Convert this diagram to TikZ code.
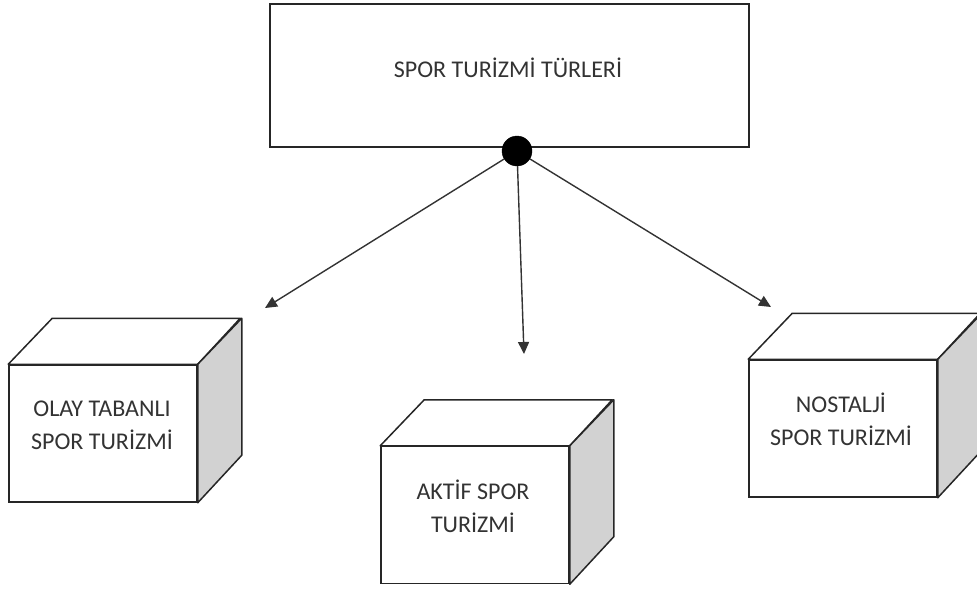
\documentclass[tikz,border=0pt]{standalone}
\usepackage{fontspec}
\setmainfont{Carlito}
\usetikzlibrary{arrows.meta}
\definecolor{txt}{HTML}{333333}
\definecolor{sideface}{HTML}{D2D2D2}
\tikzset{
  boxline/.style={draw=black!85, line width=1.5pt},
  front/.style={boxline, fill=white, inner sep=0pt, minimum width=188pt, minimum height=137pt},
  label/.style={text=txt, align=center, font=\fontsize{24}{33}\selectfont},
  link/.style={draw=black!80, line width=1.4pt, -{Triangle[length=12pt,width=11pt]}},
}
% a cube: front face node #1 at #2, with its top and right faces
\newcommand{\cubebox}[2]{%
  \node[front] (#1) at (#2) {};
  \draw[boxline, fill=white, line join=round]
    (#1.north west) -- ++(44,-46) -- ++(188,0) -- (#1.north east) -- cycle;
  \draw[boxline, fill=sideface, line join=round]
    (#1.north east) -- ++(44,-46) -- ++(0,137) -- (#1.south east) -- cycle;
}
\begin{document}
\begin{tikzpicture}[x=1pt, y=-1pt]
  \useasboundingbox (0,0) rectangle (977,590);
  \clip (0,0) rectangle (977,590);

  % heading box
  \node[boxline, inner sep=0pt, minimum width=479pt, minimum height=143pt] (top) at (509.5,75.5) {};
  \node[label] (toptext) at (508,68) {SPOR TURİZMİ TÜRLERİ};

  % the three kinds
  \cubebox{left}{103,433.5}
  \node[label] (lefttext) at (102,425) {OLAY TABANLI\\SPOR TURİZMİ};

  \cubebox{mid}{475,515}
  \node[label] (midtext) at (473,506) {AKTİF SPOR\\TURİZMİ};

  \cubebox{right}{843,428.5}
  \node[label] (righttext) at (841,419) {NOSTALJİ\\SPOR TURİZMİ};

  % branching point
  \node[circle, fill=black, draw=black, inner sep=0pt, minimum size=30pt] (hub) at (517,151) {};

  \coordinate (toleft) at (265,308);
  \coordinate (tomid) at (524,354);
  \coordinate (toright) at (771,307);
  \draw[link] (hub) -- (toleft);
  \draw[link] (hub) -- (tomid);
  \draw[link] (hub) -- (toright);
\end{tikzpicture}
\end{document}
